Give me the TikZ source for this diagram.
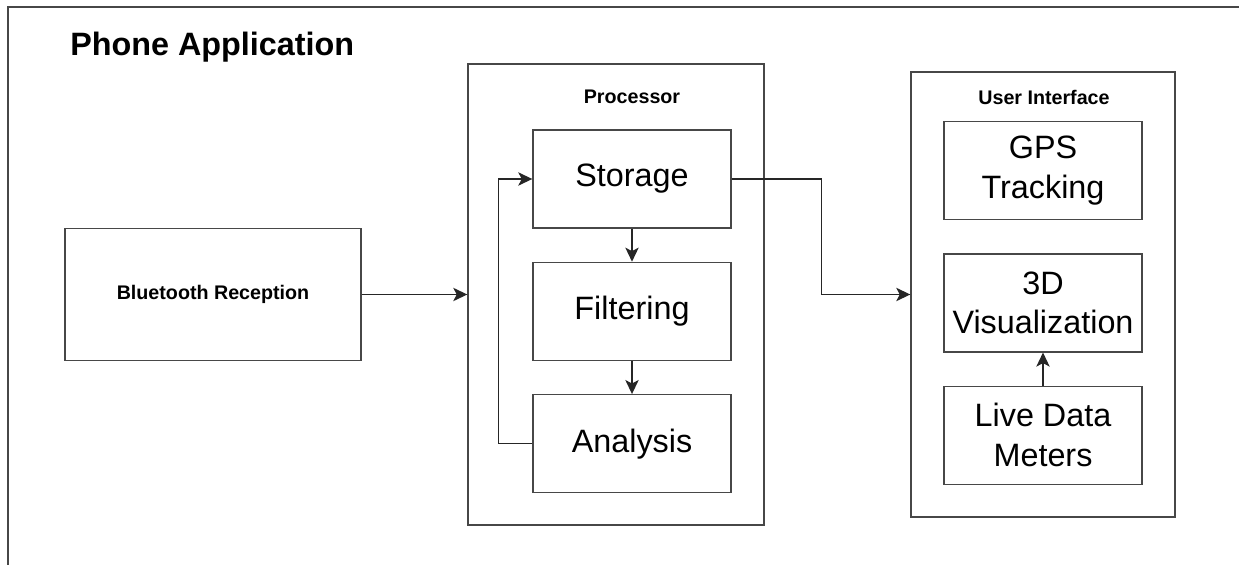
\documentclass[tikz,border=0pt]{standalone}
\usepackage{fontspec}
\setmainfont{Liberation Sans}
\usetikzlibrary{arrows.meta,positioning}

\begin{document}
\begin{tikzpicture}[
  x=0.025cm, y=-0.025cm,
  node distance=0.825cm and 0.7cm,
  frame/.style={draw=black!72, line width=0.95pt},
  block/.style={draw=black!72, line width=0.95pt, align=center, inner sep=2pt,
    minimum width=4.95cm, minimum height=2.45cm,
    font=\fontsize{23}{28.4}\selectfont},
  group/.style={draw=black!72, line width=0.95pt},
  title/.style={font=\fontsize{14}{17}\selectfont\bfseries},
  arrow/.style={-{Stealth[length=10pt, width=9.5pt, inset=2.5pt]}, line width=0.95pt, draw=black!85}
]
\useasboundingbox (0,0) rectangle (1239,565);
% outer container
\draw[frame] (8,575) -- (8,7) -- (1250,7);
\node[anchor=west, inner sep=0pt, font=\fontsize{23}{28}\selectfont\bfseries] (app) at (70,47) {Phone Application};

% input side
\node[group, minimum width=7.4cm, minimum height=3.3cm, title] (bt) at (213,294.5) {Bluetooth Reception};

% processor
\node[group, minimum width=7.4cm, minimum height=11.525cm] (proc) at (616,294.5) {};
\node[title] (proclabel) at (632,97) {Processor};
\node[block] (storage) at (632,179) {Storage};
\node[block, below=of storage] (filtering) {Filtering};
\node[block, below=of filtering] (analysis) {Analysis};

% user interface
\node[group, minimum width=6.6cm, minimum height=11.125cm] (ui) at (1043,294.5) {};
\node[title] (uilabel) at (1044,97) {User Interface};
\node[block] (gps) at (1043,170.5) {GPS\\Tracking};
\node[block, below=of gps] (viz) {3D\\Visualization};
\node[block, below=of viz] (live) {Live Data\\Meters};

\draw[arrow] (bt) -- (proc);
\draw[arrow] (storage) -- (filtering);
\draw[arrow] (filtering) -- (analysis);
\draw[arrow] (analysis.west) -- ++(-34,0) |- (storage.west);
\draw[arrow] (storage.east) -- ++(90,0) |- (ui.west);
\draw[arrow] (live) -- (viz);
\end{tikzpicture}
\end{document}
